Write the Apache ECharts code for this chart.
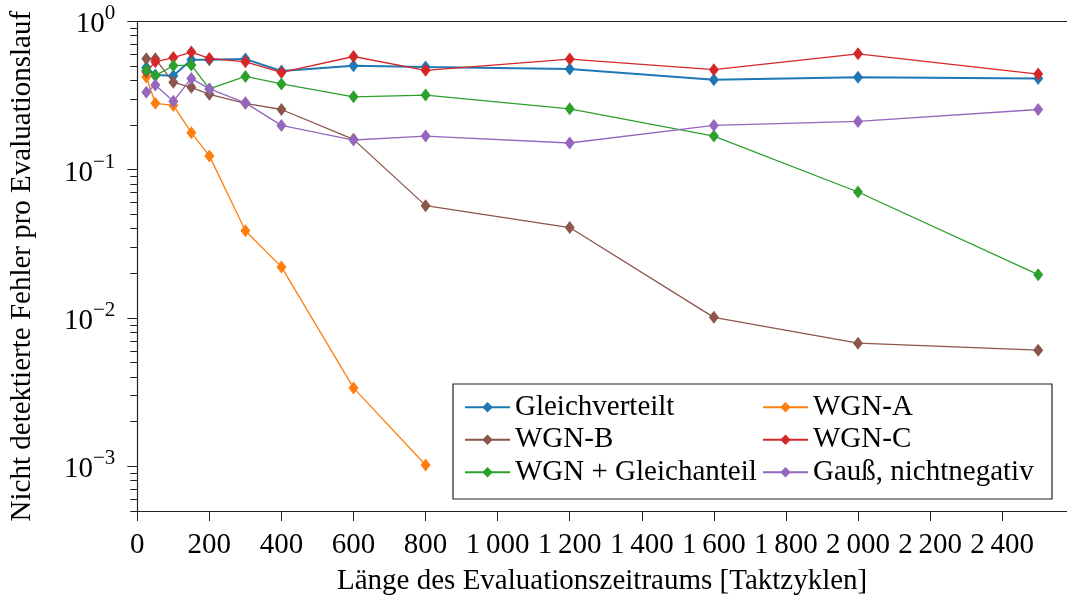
<!DOCTYPE html>
<html>
<head>
<meta charset="utf-8">
<script src="https://cdn.jsdelivr.net/npm/echarts@6/dist/echarts.min.js"></script>
<style>html,body{margin:0;padding:0;background:#fff}#c{width:1067px;height:601px}</style>
</head>
<body>
<div id="c"></div>
<script>
// ---- data ----
const xValues = [25, 50, 100, 150, 200, 300, 400, 600, 800, 1200, 1600, 2000, 2500];
const gleichverteilt = [0.489, 0.435, 0.430, 0.550, 0.550, 0.556, 0.462, 0.502, 0.492, 0.477, 0.404, 0.419, 0.411];
const wgnA = [0.421, 0.280, 0.271, 0.1776, 0.1238, 0.0387, 0.0221, 0.00338, 0.00102];
const wgnB = [0.559, 0.559, 0.388, 0.359, 0.322, 0.280, 0.2543, 0.160, 0.0572, 0.0407, 0.0101, 0.00677, 0.00607];
const wgnC = [0.457, 0.533, 0.570, 0.620, 0.562, 0.533, 0.452, 0.579, 0.467, 0.556, 0.472, 0.604, 0.441];
const wgnGleichanteil = [0.467, 0.430, 0.502, 0.507, 0.350, 0.425, 0.378, 0.3095, 0.318, 0.257, 0.1685, 0.0707, 0.0196];
const gaussNichtnegativ = [0.332, 0.372, 0.289, 0.412, 0.350, 0.282, 0.1987, 0.1584, 0.1685, 0.1512, 0.1987, 0.2114, 0.2543];
const seriesNames = ['Gleichverteilt', 'WGN-A', 'WGN-B', 'WGN-C', 'WGN + Gleichanteil', 'Gauß, nichtnegativ'];
const seriesColors = ['#1f77b4', '#ff7f0e', '#8c564b', '#d62728', '#2ca02c', '#9467bd'];
const xTicks = [0, 200, 400, 600, 800, 1000, 1200, 1400, 1600, 1800, 2000, 2200, 2400];
const yMajorTicks = [0.001, 0.01, 0.1, 1];
const yMinorTicks = [0.0005, 0.0006, 0.0007, 0.0008, 0.0009,
  0.002, 0.003, 0.004, 0.005, 0.006, 0.007, 0.008, 0.009,
  0.02, 0.03, 0.04, 0.05, 0.06, 0.07, 0.08, 0.09,
  0.2, 0.3, 0.4, 0.5, 0.6, 0.7, 0.8, 0.9];
const xTitle = 'Länge des Evaluationszeitraums [Taktzyklen]';
const yTitle = 'Nicht detektierte Fehler pro Evaluationslauf';

const FONT = '"Liberation Serif", "DejaVu Serif", serif';
const FS = 29;
const allValues = [gleichverteilt, wgnA, wgnB, wgnC, wgnGleichanteil, gaussNichtnegativ];

function fmtX(v) {
  const s = String(v);
  return s.length > 3 ? s.slice(0, s.length - 3) + '\u2009' + s.slice(-3) : s;
}
function fmtY(v) {
  const e = Math.round(Math.log10(v));
  return '{b|10}{s|' + (e < 0 ? '\u2212' + (-e) : String(e)) + '}';
}

const series = seriesNames.map((name, i) => ({
  name: name,
  type: 'line',
  xAxisIndex: 0,
  yAxisIndex: 0,
  data: allValues[i].map((v, j) => [xValues[j], v]),
  symbol: 'diamond',
  symbolSize: [10, 13],
  showSymbol: true,
  lineStyle: { width: i === 0 ? 2 : 1.3, color: seriesColors[i] },
  itemStyle: { color: seriesColors[i] },
  emphasis: { disabled: true },
  z: 2 + i
}));

const chart = echarts.init(document.getElementById('c'), null, { renderer: 'canvas' });
chart.setOption({
  animation: false,
  backgroundColor: '#fff',
  textStyle: { fontFamily: FONT },
  grid: { left: 137.3, top: 21.3, right: 0, bottom: 87.7, containLabel: false },
  xAxis: [{
    type: 'value', min: 0, max: 2580, position: 'bottom',
    name: xTitle, nameLocation: 'middle', nameGap: 56,
    nameTextStyle: { fontFamily: FONT, fontSize: FS, color: '#000' },
    axisLine: { show: true, onZero: false, lineStyle: { color: '#222', width: 1.2 } },
    axisTick: { show: true, inside: false, length: 10, customValues: xTicks, lineStyle: { color: '#222', width: 1 } },
    axisLabel: { customValues: xTicks, formatter: fmtX, margin: 20, fontFamily: FONT, fontSize: FS, color: '#000' },
    splitLine: { show: false }
  }, {
    type: 'value', min: 0, max: 2580, position: 'top',
    axisLine: { show: true, onZero: false, lineStyle: { color: '#222', width: 1.2 } },
    axisTick: { show: false }, axisLabel: { show: false }, splitLine: { show: false }
  }],
  yAxis: [{
    type: 'log', logBase: 10, min: 0.0005, max: 1, position: 'left',
    name: yTitle, nameLocation: 'middle', nameGap: 100,
    nameTextStyle: { fontFamily: FONT, fontSize: FS, color: '#000' },
    axisLine: { show: true, lineStyle: { color: '#222', width: 1.2 } },
    axisTick: { show: true, inside: false, length: 10, customValues: yMajorTicks, lineStyle: { color: '#222', width: 1 } },
    axisLabel: {
      customValues: yMajorTicks, formatter: fmtY, margin: 22, color: '#000',
      rich: {
        b: { fontFamily: FONT, fontSize: FS, color: '#000', lineHeight: 36, verticalAlign: 'bottom' },
        s: { fontFamily: FONT, fontSize: 21, color: '#000', lineHeight: 21, verticalAlign: 'top' }
      }
    },
    splitLine: { show: false }
  }, {
    type: 'log', logBase: 10, min: 0.0005, max: 1, position: 'left',
    axisLine: { show: false },
    axisTick: { show: true, inside: false, length: 7, customValues: yMinorTicks, lineStyle: { color: '#222', width: 1 } },
    axisLabel: { show: false },
    splitLine: { show: false }
  }],
  legend: [{
    data: [seriesNames[0], seriesNames[2], seriesNames[4]],
    orient: 'vertical', left: 459, top: 387,
    itemWidth: 45, itemHeight: 13, itemGap: 2,
    textStyle: { fontFamily: FONT, fontSize: FS, color: '#000', lineHeight: 30.5 },
    selectedMode: false
  }, {
    data: [seriesNames[1], seriesNames[3], seriesNames[5]],
    orient: 'vertical', left: 757, top: 387,
    itemWidth: 45, itemHeight: 13, itemGap: 2,
    textStyle: { fontFamily: FONT, fontSize: FS, color: '#000', lineHeight: 30.5 },
    selectedMode: false
  }],
  graphic: [{
    type: 'rect', left: 450.5, top: 381.5, z: 100,
    shape: { width: 599, height: 115 },
    style: { fill: 'none', stroke: '#222', lineWidth: 1.2 }
  }],
  series: series
});
</script>
</body>
</html>
